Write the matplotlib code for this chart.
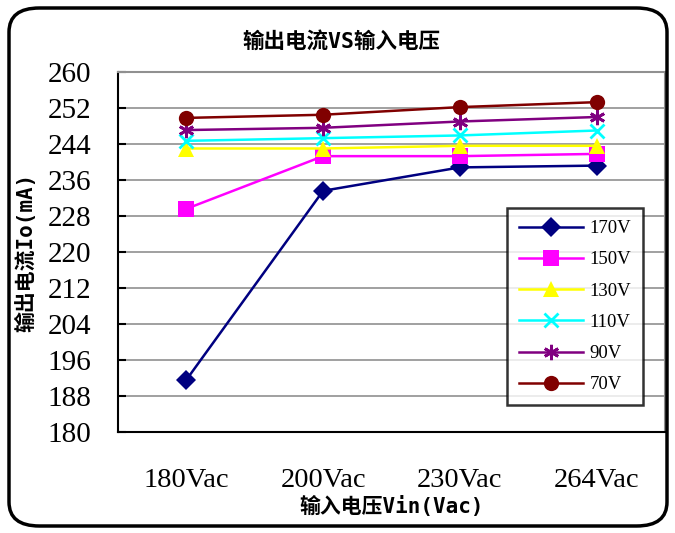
import matplotlib
matplotlib.use("Agg")
import matplotlib.pyplot as plt
from matplotlib.patches import FancyBboxPatch

plt.rcParams['font.family'] = ['Noto Sans CJK SC', 'DejaVu Sans']

categories = ["180Vac", "200Vac", "230Vac", "264Vac"]
series_names = ["170V", "150V", "130V", "110V", "90V", "70V"]
v170 = [191.6, 233.6, 238.8, 239.2]
v150 = [229.6, 241.3, 241.3, 241.8]
v130 = [243.0, 243.0, 243.6, 243.6]
v110 = [244.7, 245.3, 245.9, 247.0]
v90 = [247.1, 247.6, 249.0, 250.0]
v70 = [249.8, 250.5, 252.2, 253.3]
yticks = [180, 188, 196, 204, 212, 220, 228, 236, 244, 252, 260]

series = [v170, v150, v130, v110, v90, v70]
colors = ["#000080", "#FF00FF", "#FFFF00", "#00FFFF", "#800080", "#800000"]
markers = ["D", "s", "^", "x", "*", "o"]
msizes = [10, 11, 12, 10, 11, 11]

label_font = ['DejaVu Sans Mono', 'Noto Sans CJK SC']

fig = plt.figure(figsize=(6.75, 5.33), dpi=100)
ax = fig.add_axes([118/675, 1-432/533, (665-118)/675, (432-72)/533])

x = list(range(len(categories)))
for vals, name, c, m, ms in zip(series, series_names, colors, markers, msizes):
    kw = dict(markeredgewidth=2) if m in ("x", "*") else dict(markeredgewidth=0)
    if m == "*":
        m = (6, 2, 0)
    ax.plot(x, vals, color=c, marker=m, markersize=ms, linewidth=1.8,
            label=name, markerfacecolor=c, markeredgecolor=c, **kw)

ax.set_xlim(-0.5, 3.5)
ax.set_ylim(180, 260)
ax.set_yticks(yticks)
ax.set_xticks(x)
ax.set_xticklabels(categories, family='Liberation Serif', fontsize=20.5)
ax.set_yticklabels([str(t) for t in yticks], family='Liberation Serif', fontsize=21)
ax.yaxis.grid(True, color='#909090', linewidth=1.2)
ax.set_axisbelow(True)
ax.tick_params(axis='y', direction='in', length=6, width=1.5, pad=19)
ax.tick_params(axis='x', length=0, pad=26)
for s in ['top', 'right']:
    ax.spines[s].set_color('#909090')
    ax.spines[s].set_linewidth(1.5)
for s in ['left', 'bottom']:
    ax.spines[s].set_color('black')
    ax.spines[s].set_linewidth(1.5)

ax.set_xlabel("输入电压Vin(Vac)", fontsize=15, fontweight='bold', labelpad=2,
              family=label_font)
ax.set_ylabel("输出电流Io(mA)", fontsize=15, fontweight='bold', labelpad=8,
              family=label_font)
fig.text(341/675, 1-41/533, "输出电流VS输入电压", fontsize=15.5, fontweight='bold',
         ha='center', va='center', family=label_font)

leg = ax.legend(loc='upper left', bbox_to_anchor=((507-118)/547, 1-(208-72)/360),
                frameon=True, fancybox=False, edgecolor='black',
                prop={'family': 'Liberation Serif', 'size': 13.5},
                handlelength=3.4, labelspacing=0.75, borderpad=0.65,
                handletextpad=0.35, borderaxespad=0)
leg.get_frame().set_linewidth(1.8)

border = FancyBboxPatch((9/675, 7/533), 658/675, 518/533,
                        boxstyle="round,pad=0,rounding_size=0.045",
                        transform=fig.transFigure, fill=False,
                        edgecolor='black', linewidth=2.5)
fig.patches.append(border)

fig.savefig("out.png", dpi=100)
